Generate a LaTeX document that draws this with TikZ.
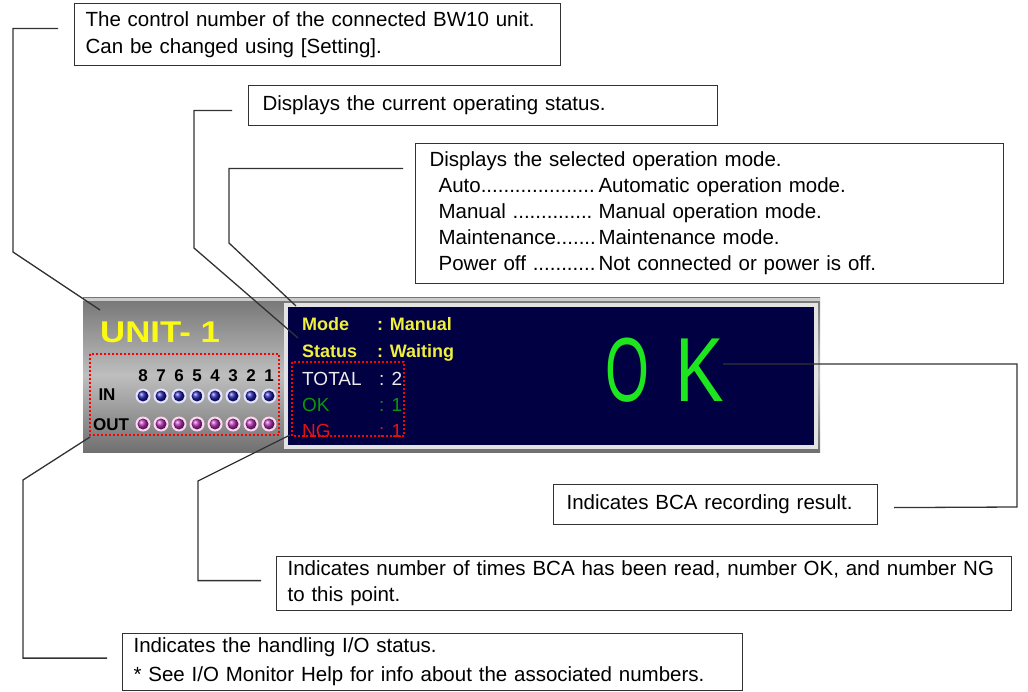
\documentclass[tikz,border=0pt]{standalone}
\usepackage{fontspec}
\setmainfont{Liberation Sans}
\definecolor{lcdnavy}{RGB}{0,0,66}
\definecolor{lcdyellow}{RGB}{240,240,60}
\definecolor{unityellow}{RGB}{250,250,20}
\definecolor{okgreen}{RGB}{30,230,30}
\definecolor{cntgreen}{RGB}{10,150,10}
\definecolor{ngred}{RGB}{225,20,20}
\definecolor{leadgray}{RGB}{50,50,50}
\definecolor{ledblue}{RGB}{30,30,170}
\definecolor{ledpurple}{RGB}{175,45,175}
\definecolor{paneltop}{RGB}{118,118,118}
\definecolor{panelmid}{RGB}{190,190,190}
\definecolor{panelbot}{RGB}{112,112,112}
\begin{document}
\begin{tikzpicture}[x=1pt,y=-1pt,
  callout/.style={draw=leadgray,line width=1.2pt,anchor=north west,align=left,
    inner xsep=11pt,inner ysep=0pt,font=\fontsize{20.5}{27}\selectfont},
  leader/.style={leadgray,line width=1.3pt},
  lcdlbl/.style={anchor=base west,inner sep=0pt,font=\fontsize{18}{18}\selectfont\bfseries,text=lcdyellow},
  cntlbl/.style={anchor=base west,inner sep=0pt,font=\fontsize{19}{19}\selectfont},
  iolbl/.style={anchor=base,inner sep=0pt,font=\fontsize{17}{17}\selectfont\bfseries},
  redbox/.style={draw=red,dotted,line width=2pt}]
\useasboundingbox (0,0) rectangle (1028,692);

% unit panel
\shade[top color=paneltop,bottom color=panelbot,middle color=panelmid] (83,298) rectangle (820,452);
\fill[gray!40] (83,298) rectangle (820,301);
\fill[gray!22] (284,303) rectangle (818,449);
\fill[lcdnavy] (288,307) rectangle (814,445);
\node[anchor=base west,inner sep=0pt,text=unityellow] (unitlbl) at (100,343)
  {\scalebox{1.16}[1]{\fontsize{30}{30}\selectfont\bfseries UNIT- 1}};

% io monitor
\node[iolbl] (inlbl) at (107,401) {IN};
\node[iolbl] (outlbl) at (111,430) {OUT};
\foreach \n [count=\k] in {8,7,6,5,4,3,2,1} {
  \node[iolbl] (num\n) at (125+18*\k,382) {\n};
  \fill[blue!10] (125+18*\k,396) circle (7.5);
  \shade[ball color=ledblue] (125+18*\k,396) circle (5.5);
  \fill[magenta!15] (125+18*\k,424) circle (7.5);
  \shade[ball color=ledpurple] (125+18*\k,424) circle (5.5);
}
\draw[redbox] (90,354) rectangle (279,435);

% screen texts
\node[lcdlbl] (modelbl) at (302,331) {Mode};
\node[lcdlbl] (modeval) at (377,331) {: Manual};
\node[lcdlbl] (statlbl) at (302,358) {Status};
\node[lcdlbl] (statval) at (377,358) {: Waiting};
\node[cntlbl,text=gray!15] (totlbl) at (302,385) {TOTAL};
\node[cntlbl,text=gray!15] (totval) at (379,385) {: 2};
\node[cntlbl,text=cntgreen] (oklbl) at (302,412) {OK};
\node[cntlbl,text=cntgreen] (okval) at (379,412) {: 1};
\node[cntlbl,text=ngred] (nglbl) at (302,437) {NG};
\node[cntlbl,text=ngred] (ngval) at (379,437) {: 1};
\draw[redbox] (292,362) rectangle (404,436);
\node[anchor=base,inner sep=0pt,text=okgreen] (bigo) at (627,402)
  {\scalebox{0.62}[1]{\fontsize{91}{91}\selectfont O}};
\node[anchor=base,inner sep=0pt,text=okgreen] (bigk) at (700,402)
  {\scalebox{0.8}[1]{\fontsize{91}{91}\selectfont K}};

% callouts
\node[callout,text width=464pt,minimum height=62pt] (ctrlbox) at (74,3)
  {The control number of the connected BW10 unit.\\Can be changed using [Setting].};
\node[callout,inner xsep=14pt,text width=441pt,minimum height=40pt] (statbox) at (248,85)
  {Displays the current operating status.};
\node[callout,inner xsep=14pt,text width=560pt,minimum height=140pt,
  font=\fontsize{20.5}{26}\selectfont] (modebox) at (415,143)
  {Displays the selected operation mode.\\
   \hspace*{9pt}\makebox[7.8em][l]{Auto....................}Automatic operation mode.\\
   \hspace*{9pt}\makebox[7.8em][l]{Manual ..............}Manual operation mode.\\
   \hspace*{9pt}\makebox[7.8em][l]{Maintenance.......}Maintenance mode.\\
   \hspace*{9pt}\makebox[7.8em][l]{Power off ...........}Not connected or power is off.};
\node[callout,inner xsep=13pt,text width=298pt,minimum height=40pt] (resbox) at (553,484)
  {Indicates BCA recording result.};
\node[callout,text width=713pt,minimum height=54pt,
  font=\fontsize{20.5}{26}\selectfont] (cntbox) at (276,556)
  {Indicates number of times BCA has been read, number OK, and number NG\\to this point.};
\node[callout,text width=598pt,minimum height=57pt,
  font=\fontsize{20.5}{29}\selectfont] (iobox) at (122,633)
  {Indicates the handling I/O status.\\{*} See I/O Monitor Help for info about the associated numbers.};

% leader lines
\coordinate (bendA) at (13,252);
\coordinate (unitpt) at (100,310);
\coordinate (bendB) at (194,248);
\coordinate (statpt) at (298,338);
\coordinate (bendC) at (229,243);
\coordinate (modept) at (296,306);
\coordinate (okpt) at (723,364);
\coordinate (bendD) at (1017,507);
\coordinate (bendE) at (198,481);
\coordinate (cntpt) at (290,435);
\coordinate (bendF) at (23,480);
\coordinate (iopt) at (90,437);
\draw[leader] ([xshift=-16pt,yshift=6pt]ctrlbox.west) -| (bendA) -- (unitpt);
\draw[leader] ([xshift=-16pt,yshift=-5pt]statbox.west) -| (bendB) -- (statpt);
\draw[leader] ([xshift=-12pt,yshift=45pt]modebox.west) -| (bendC) -- (modept);
\draw[leader] (okpt) -| (bendD) -- ([xshift=16pt,yshift=-3pt]resbox.east);
\draw[leader] ([xshift=-15pt,yshift=3pt]cntbox.west) -| (bendE) -- (cntpt);
\draw[leader] ([xshift=-15pt,yshift=4pt]iobox.west) -| (bendF) -- (iopt);
\end{tikzpicture}
\end{document}
